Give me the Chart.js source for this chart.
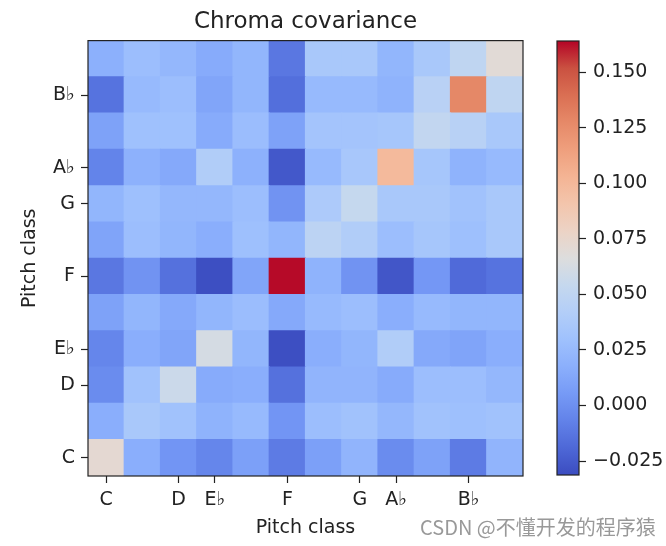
<!DOCTYPE html>
<html>
<head>
<meta charset="utf-8">
<script src="https://cdn.jsdelivr.net/npm/chart.js@4.4.0/dist/chart.umd.min.js"></script>
<style>
  html, body { margin: 0; padding: 0; background: #fff; }
  #wrap { position: relative; width: 666px; height: 546px; }
  #wrap canvas { position: absolute; left: 0; top: 0; }
  #mark { position: absolute; left: 420px; top: 512px; font: 20px "Noto Sans CJK SC", sans-serif; color: #999; white-space: nowrap; }
</style>
</head>
<body>
<div id="wrap">
  <canvas id="heat" width="666" height="546"></canvas>
  <canvas id="cbar" width="666" height="546"></canvas>
  <div id="mark">CSDN @不懂开发的程序猿</div>
</div>
<script>
let pitchNames = ['C', 'C♯', 'D', 'E♭', 'E', 'F', 'F♯', 'G', 'A♭', 'A', 'B♭', 'B'];

// pitch classes that get a tick label
let tickIndex = [0, 2, 3, 5, 7, 8, 10];

// covariance rows, row 0 = C (bottom of the plot)
let covariance = [
    [0.072, 0.017, 0.003, -0.005, 0.009, -0.010, 0.009, 0.021, -0.002, 0.010, -0.010, 0.021],
    [0.017, 0.036, 0.031, 0.020, 0.025, 0.003, 0.028, 0.031, 0.023, 0.031, 0.029, 0.031],
    [-0.002, 0.031, 0.057, 0.015, 0.017, -0.015, 0.021, 0.021, 0.015, 0.028, 0.028, 0.023],
    [-0.005, 0.017, 0.012, 0.062, 0.022, -0.030, 0.017, 0.022, 0.041, 0.014, 0.011, 0.017],
    [0.010, 0.022, 0.014, 0.022, 0.027, 0.014, 0.025, 0.028, 0.017, 0.025, 0.022, 0.022],
    [-0.012, 0.002, -0.015, -0.030, 0.012, 0.163, 0.020, 0.002, -0.027, 0.004, -0.018, -0.014],
    [0.011, 0.028, 0.022, 0.017, 0.029, 0.022, 0.048, 0.041, 0.028, 0.034, 0.029, 0.036],
    [0.022, 0.029, 0.023, 0.023, 0.028, 0.002, 0.038, 0.054, 0.036, 0.036, 0.031, 0.036],
    [-0.006, 0.019, 0.014, 0.041, 0.019, -0.026, 0.025, 0.035, 0.099, 0.034, 0.020, 0.025],
    [0.010, 0.030, 0.030, 0.015, 0.027, 0.010, 0.033, 0.033, 0.034, 0.052, 0.045, 0.036],
    [-0.014, 0.025, 0.028, 0.012, 0.022, -0.016, 0.025, 0.025, 0.020, 0.046, 0.128, 0.050],
    [0.018, 0.028, 0.023, 0.015, 0.022, -0.012, 0.036, 0.036, 0.022, 0.036, 0.050, 0.070],
];

let vmin = -0.0313;
let vmax = 0.164;
let colorbarTicks = [-0.025, 0, 0.025, 0.05, 0.075, 0.1, 0.125, 0.15];

// matplotlib coolwarm, 17 stops
let coolwarmStops = [
    [59, 76, 192], [78, 104, 215], [98, 130, 233], [118, 154, 246],
    [139, 175, 252], [159, 193, 253], [179, 206, 248], [197, 216, 238],
    [221, 221, 221], [236, 211, 197], [243, 197, 172], [244, 180, 148],
    [239, 159, 125], [230, 137, 104], [218, 111, 83], [202, 81, 65],
    [180, 4, 38],
];

function coolwarm(t) {
    t = Math.min(1, Math.max(0, t)) * (coolwarmStops.length - 1);
    let i = Math.min(Math.floor(t), coolwarmStops.length - 2);
    let f = t - i;
    let a = coolwarmStops[i], b = coolwarmStops[i + 1];
    let c = a.map((v, k) => Math.round(v + (b[k] - v) * f));
    return 'rgb(' + c.join(',') + ')';
}

function valueColor(v) {
    return coolwarm((v - vmin) / (vmax - vmin));
}

let font = { family: 'DejaVu Sans', size: 19 };
let ink = '#222';

// black frame round the plot area
let frame = {
    id: 'frame',
    afterDatasetsDraw(chart) {
        let a = chart.chartArea;
        let ctx = chart.ctx;
        ctx.save();
        ctx.strokeStyle = ink;
        ctx.lineWidth = 1.2;
        ctx.strokeRect(a.left, a.top, a.right - a.left, a.bottom - a.top);
        ctx.restore();
    }
};

let datasets = covariance.map((row, r) => ({
    label: pitchNames[r],
    data: row.map(() => [r, r + 1]),
    backgroundColor: row.map(valueColor),
    borderWidth: 0,
    inflateAmount: 0.6,
    barPercentage: 1,
    categoryPercentage: 1,
    grouped: false,
}));

new Chart(document.getElementById('heat'), {
    type: 'bar',
    data: { labels: pitchNames, datasets: datasets },
    options: {
        responsive: false,
        animation: false,
        layout: { padding: { top: 8, right: 143, bottom: 0, left: 0 } },
        plugins: {
            legend: { display: false },
            tooltip: { enabled: false },
            title: {
                display: true,
                text: 'Chroma covariance',
                fullSize: false,
                color: ink,
                font: { family: 'DejaVu Sans', size: 23, weight: 'normal' },
                padding: { top: 0, bottom: 5 },
            },
        },
        scales: {
            x: {
                afterFit: s => { s.height = 70; },
                grid: {
                    offset: false,
                    drawOnChartArea: false,
                    tickLength: 7,
                    tickWidth: 1.2,
                    color: ctx => tickIndex.includes(ctx.index) ? ink : 'rgba(0,0,0,0)',
                },
                border: { display: false },
                ticks: {
                    autoSkip: false,
                    maxRotation: 0,
                    padding: 6,
                    color: ink,
                    font: font,
                    callback: (v, i) => tickIndex.includes(i) ? pitchNames[i] : '',
                },
                title: { display: true, text: 'Pitch class', color: ink, font: font, padding: { top: 0, bottom: 7 } },
            },
            y: {
                min: 0,
                max: 12,
                afterFit: s => { s.width = 88; },
                afterBuildTicks: s => { s.ticks = tickIndex.map(i => ({ value: i + 0.5 })); },
                grid: { drawOnChartArea: false, tickLength: 7, tickWidth: 1.2, color: ink },
                border: { display: false },
                ticks: {
                    padding: 6,
                    color: ink,
                    font: font,
                    callback: v => pitchNames[Math.floor(v)],
                },
                title: { display: true, text: 'Pitch class', color: ink, font: font, padding: { top: 19, bottom: 0 } },
            },
        },
    },
    plugins: [frame],
});

// colorbar
new Chart(document.getElementById('cbar'), {
    type: 'bar',
    data: {
        labels: [''],
        datasets: [{
            data: [[vmin, vmax]],
            backgroundColor: ctx => {
                let a = ctx.chart.chartArea;
                if (!a) return '#ddd';
                let g = ctx.chart.ctx.createLinearGradient(0, a.bottom, 0, a.top);
                coolwarmStops.forEach((c, i) => {
                    g.addColorStop(i / (coolwarmStops.length - 1), 'rgb(' + c.join(',') + ')');
                });
                return g;
            },
            borderWidth: 0,
            barPercentage: 1,
            categoryPercentage: 1,
        }],
    },
    options: {
        responsive: false,
        animation: false,
        layout: { padding: { top: 41, right: 0, bottom: 71, left: 557 } },
        plugins: { legend: { display: false }, tooltip: { enabled: false } },
        scales: {
            x: { display: false },
            y: {
                position: 'right',
                min: vmin,
                max: vmax,
                afterFit: s => { s.width = 87; },
                afterBuildTicks: s => { s.ticks = colorbarTicks.map(v => ({ value: v })); },
                grid: { drawOnChartArea: false, tickLength: 7, tickWidth: 1.2, color: ink },
                border: { display: false },
                ticks: {
                    padding: 7,
                    color: ink,
                    font: font,
                    callback: v => (v < 0 ? '\u2212' : '') + Math.abs(v).toFixed(3),
                },
            },
        },
    },
    plugins: [frame],
});
</script>
</body>
</html>
